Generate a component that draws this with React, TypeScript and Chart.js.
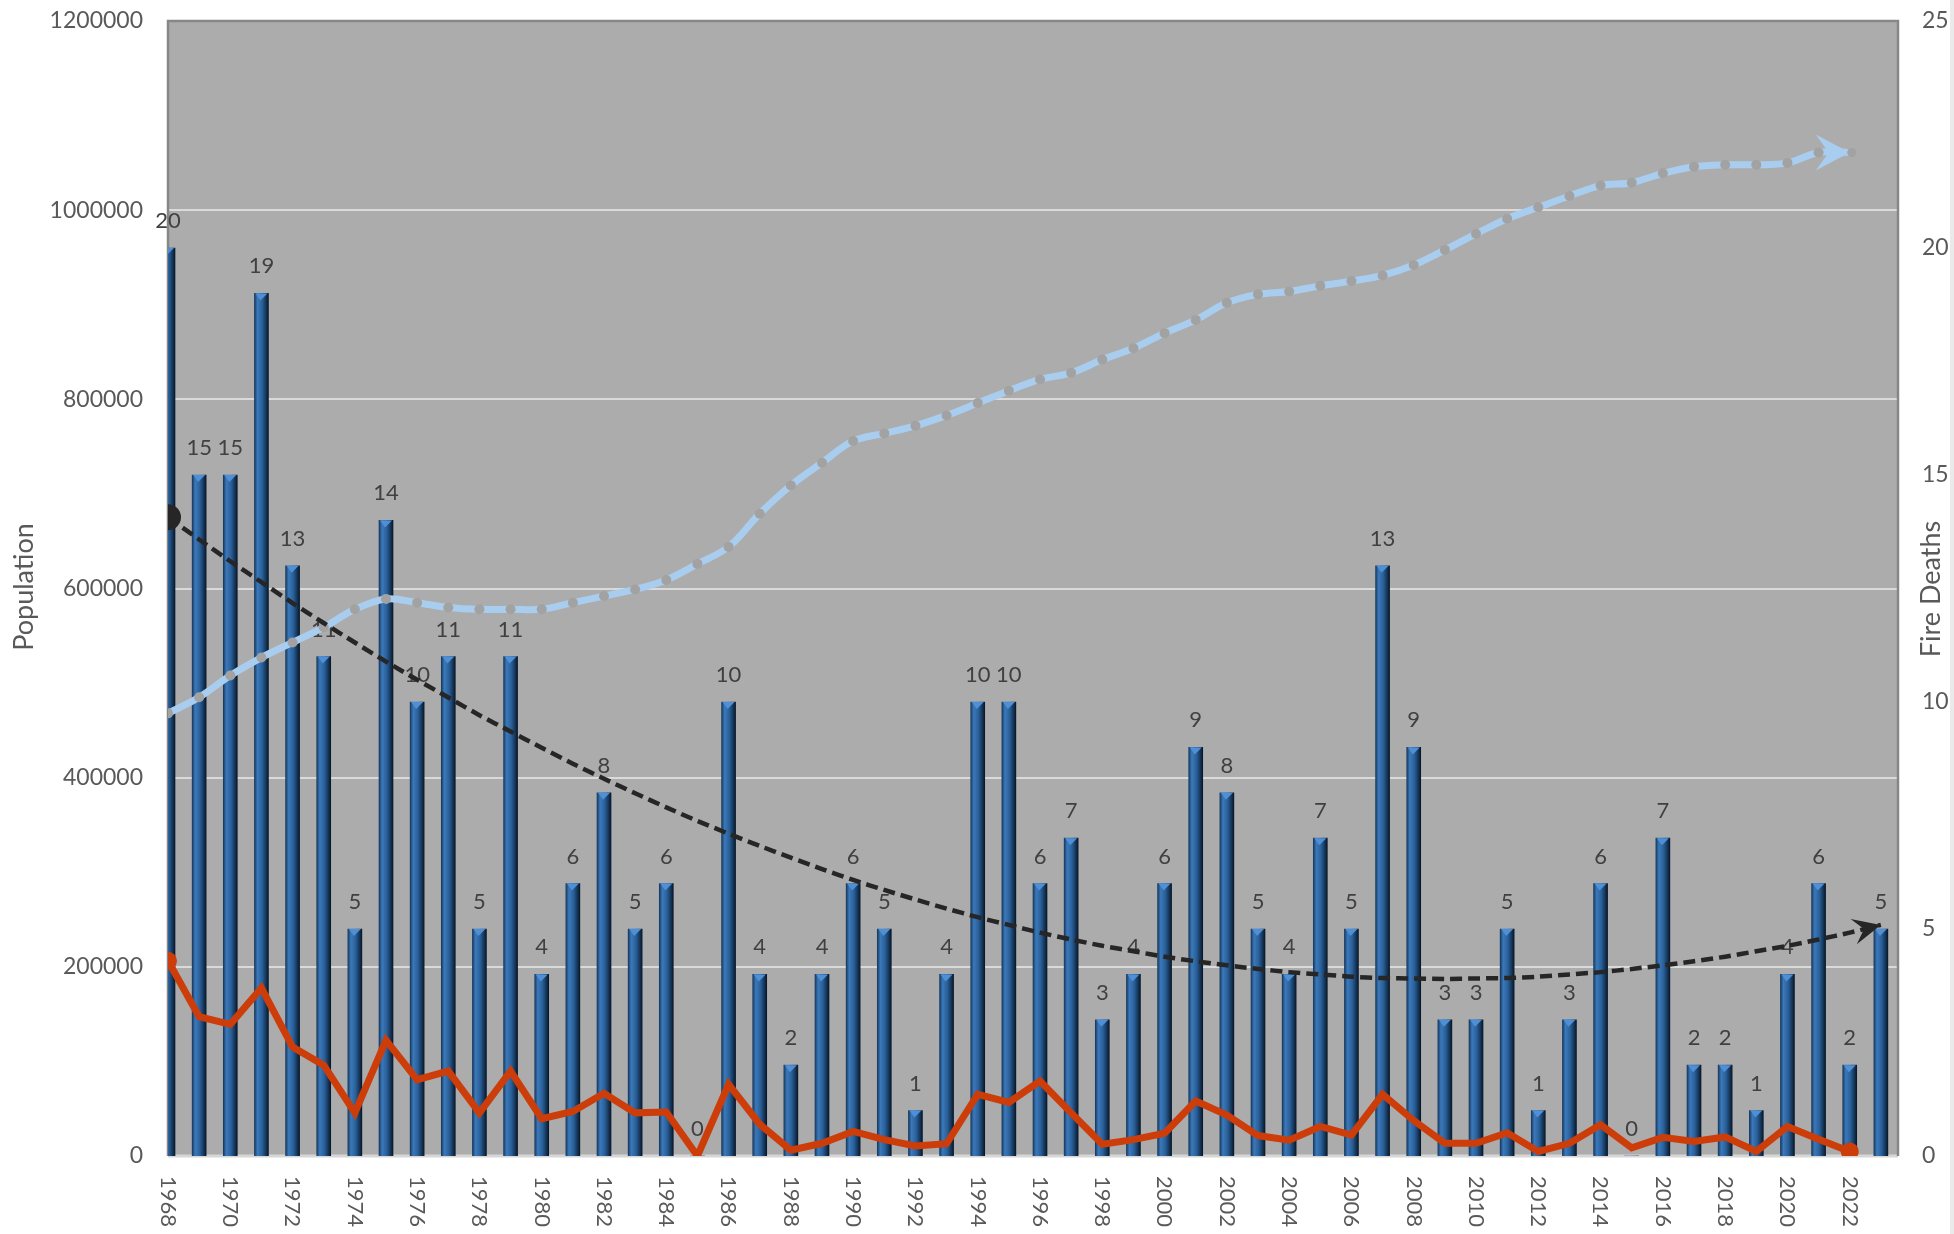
import React, { useEffect, useRef } from "react";
import { Chart, registerables } from "chart.js";

Chart.register(...registerables);

// ---------- data ----------
const years = [
  1968, 1969, 1970, 1971, 1972, 1973, 1974, 1975, 1976, 1977,
  1978, 1979, 1980, 1981, 1982, 1983, 1984, 1985, 1986, 1987,
  1988, 1989, 1990, 1991, 1992, 1993, 1994, 1995, 1996, 1997,
  1998, 1999, 2000, 2001, 2002, 2003, 2004, 2005, 2006, 2007,
  2008, 2009, 2010, 2011, 2012, 2013, 2014, 2015, 2016, 2017,
  2018, 2019, 2020, 2021, 2022, 2023,
];

const fireDeaths = [
  20, 15, 15, 19, 13, 11, 5, 14, 10, 11,
  5, 11, 4, 6, 8, 5, 6, 0, 10, 4,
  2, 4, 6, 5, 1, 4, 10, 10, 6, 7,
  3, 4, 6, 9, 8, 5, 4, 7, 5, 13,
  9, 3, 3, 5, 1, 3, 6, 0, 7, 2,
  2, 1, 4, 6, 2, 5,
];

// population 1968..2022
const population = [
  468000, 485000, 508000, 527000, 543000, 559000, 578000, 589000, 585000, 580000,
  578000, 578000, 578000, 585000, 592000, 599000, 609000, 626000, 644000, 679000,
  709000, 733000, 756000, 764000, 772000, 783000, 796000, 809000, 821000, 828000,
  842000, 854000, 870000, 884000, 902000, 911000, 914000, 920000, 925000, 931000,
  942000, 958000, 975000, 991000, 1003000, 1015000, 1026000, 1029000, 1039000, 1046000,
  1048000, 1048000, 1050000, 1061000, 1061000,
];

// fire deaths per 100,000 residents 1968..2022
const deathRate = [
  4.3, 3.07, 2.9, 3.7, 2.4, 2.0, 0.95, 2.55, 1.68, 1.87,
  0.95, 1.87, 0.82, 0.98, 1.38, 0.95, 0.97, 0.0, 1.58, 0.7,
  0.13, 0.28, 0.54, 0.36, 0.22, 0.27, 1.36, 1.18, 1.65, 0.95,
  0.26, 0.36, 0.5, 1.21, 0.9, 0.45, 0.35, 0.65, 0.46, 1.36,
  0.78, 0.28, 0.28, 0.51, 0.1, 0.28, 0.69, 0.18, 0.41, 0.32,
  0.42, 0.1, 0.65, 0.37, 0.1,
];

// polynomial trend of fire deaths 1968..2023
const deathTrend = [
  14.07, 13.58, 13.1, 12.64, 12.18, 11.74, 11.31, 10.89, 10.49, 10.1,
  9.71, 9.35, 8.99, 8.64, 8.31, 7.99, 7.68, 7.38, 7.1, 6.83,
  6.57, 6.32, 6.08, 5.86, 5.65, 5.45, 5.26, 5.09, 4.92, 4.77,
  4.63, 4.51, 4.39, 4.29, 4.2, 4.12, 4.05, 4.0, 3.95, 3.92,
  3.91, 3.9, 3.91, 3.92, 3.95, 4.0, 4.05, 4.12, 4.2, 4.29,
  4.39, 4.51, 4.63, 4.77, 4.92, 5.09,
];

const xTickLabels = [
  1968, 1970, 1972, 1974, 1976, 1978, 1980, 1982, 1984, 1986,
  1988, 1990, 1992, 1994, 1996, 1998, 2000, 2002, 2004, 2006,
  2008, 2010, 2012, 2014, 2016, 2018, 2020, 2022,
];

const leftTitle = "Population";
const rightTitle = "Fire Deaths";

// ---------- style ----------
const FONT = "Lato, 'Open Sans', sans-serif";
const TICK_COLOR = "#595959";
const LABEL_COLOR = "#404040";
const W = 1954;
const H = 1234;

const IDX_BARS = 3;
const IDX_POP = 2;
const IDX_TREND = 1;

function drawArrow(
  ctx: CanvasRenderingContext2D,
  tipX: number,
  tipY: number,
  fromX: number,
  fromY: number,
  len: number,
  half: number,
  color: string
) {
  const ang = Math.atan2(tipY - fromY, tipX - fromX);
  ctx.save();
  ctx.translate(tipX, tipY);
  ctx.rotate(ang);
  ctx.beginPath();
  ctx.moveTo(0, 0);
  ctx.lineTo(-len, -half);
  ctx.lineTo(-len * 0.62, 0);
  ctx.lineTo(-len, half);
  ctx.closePath();
  ctx.fillStyle = color;
  ctx.fill();
  ctx.restore();
}

const decorPlugin = {
  id: "decor",
  beforeDraw(chart: any) {
    const { ctx, chartArea: a } = chart;
    ctx.save();
    ctx.fillStyle = "#acacac";
    ctx.fillRect(a.left, a.top, a.right - a.left, a.bottom - a.top);
    ctx.restore();
  },
  beforeDatasetsDraw(chart: any) {
    const { ctx, chartArea: a } = chart;
    ctx.save();
    ctx.strokeStyle = "#d6d6d6";
    ctx.lineWidth = 3;
    ctx.beginPath();
    ctx.moveTo(a.left, a.bottom);
    ctx.lineTo(a.right, a.bottom);
    ctx.stroke();
    ctx.strokeStyle = "#878787";
    ctx.lineWidth = 2.5;
    ctx.beginPath();
    ctx.moveTo(a.left, a.bottom);
    ctx.lineTo(a.left, a.top);
    ctx.lineTo(a.right, a.top);
    ctx.lineTo(a.right, a.bottom);
    ctx.stroke();
    ctx.restore();
  },
  afterDatasetDraw(chart: any, args: any) {
    const ctx: CanvasRenderingContext2D = chart.ctx;
    const a = chart.chartArea;
    const meta = args.meta;
    if (args.index === IDX_BARS) {
      ctx.save();
      ctx.beginPath();
      ctx.rect(a.left, a.top, a.right - a.left, a.bottom - a.top);
      ctx.clip();
      meta.data.forEach((el: any) => {
        const { x, y, base, width } = el.getProps(["x", "y", "base", "width"], true);
        if (base - y > 8) {
          ctx.fillStyle = "#4f8fd6";
          ctx.beginPath();
          ctx.moveTo(x - width / 2 + 1, y);
          ctx.lineTo(x + width / 2 - 1, y);
          ctx.lineTo(x - 1, y + 7);
          ctx.closePath();
          ctx.fill();
        }
      });
      ctx.restore();
      ctx.save();
      ctx.font = `22px ${FONT}`;
      ctx.fillStyle = LABEL_COLOR;
      ctx.textAlign = "center";
      ctx.textBaseline = "middle";
      meta.data.forEach((el: any, i: number) => {
        const { x, y } = el.getProps(["x", "y"], true);
        ctx.fillText(String(fireDeaths[i]), x, y - 27);
      });
      ctx.restore();
    }
    if (args.index === IDX_POP) {
      const pts = meta.data;
      const n = pts.length;
      drawArrow(ctx, pts[n - 1].x, pts[n - 1].y, pts[n - 2].x, pts[n - 2].y, 34, 18, "#a9cdee");
      ctx.save();
      ctx.fillStyle = "#a2a2a2";
      ctx.beginPath();
      ctx.arc(pts[n - 1].x + 2, pts[n - 1].y, 4.5, 0, Math.PI * 2);
      ctx.fill();
      ctx.restore();
    }
    if (args.index === IDX_TREND) {
      const pts = meta.data;
      const n = pts.length;
      drawArrow(ctx, pts[n - 1].x, pts[n - 1].y, pts[n - 2].x, pts[n - 2].y, 28, 13, "#262626");
    }
  },
  afterDraw(chart: any) {
    const ctx: CanvasRenderingContext2D = chart.ctx;
    const a = chart.chartArea;
    const xs = chart.scales.x;
    ctx.save();
    ctx.font = `22px ${FONT}`;
    ctx.fillStyle = TICK_COLOR;
    ctx.textAlign = "left";
    ctx.textBaseline = "middle";
    xTickLabels.forEach((yr) => {
      const x = xs.getPixelForValue(yr);
      ctx.save();
      ctx.translate(x, a.bottom + 20);
      ctx.rotate(Math.PI / 2);
      ctx.fillText(String(yr), 0, 0);
      ctx.restore();
    });
    ctx.font = `27px ${FONT}`;
    ctx.textAlign = "center";
    ctx.textBaseline = "middle";
    ctx.save();
    ctx.translate(24, 587);
    ctx.rotate(-Math.PI / 2);
    ctx.fillText(leftTitle, 0, 0);
    ctx.restore();
    ctx.save();
    ctx.translate(1931, 589);
    ctx.rotate(-Math.PI / 2);
    ctx.fillText(rightTitle, 0, 0);
    ctx.restore();
    ctx.fillStyle = "#eaeaea";
    ctx.fillRect(1950, 0, 4, H);
    ctx.restore();
  },
};

export default function App() {
  const ref = useRef<HTMLCanvasElement | null>(null);

  useEffect(() => {
    if (!ref.current) return;
    const barGradient = (c: any) => {
      const chart = c.chart;
      const xs = chart.scales && chart.scales.x;
      if (!xs || c.type !== "data" || !c.raw || !isFinite(xs.getPixelForValue(c.raw.x))) return "#2a609a";
      const cx = xs.getPixelForValue(c.raw.x);
      const w = 14;
      const g = chart.ctx.createLinearGradient(cx - w / 2, 0, cx + w / 2, 0);
      g.addColorStop(0, "#173a60");
      g.addColorStop(0.22, "#3b79ba");
      g.addColorStop(0.55, "#2a609a");
      g.addColorStop(0.85, "#133252");
      g.addColorStop(1, "#08172a");
      return g;
    };

    const chart = new Chart(ref.current, {
      type: "bar",
      data: {
        datasets: [
          {
            type: "line",
            label: "Fire deaths per 100,000",
            data: years.slice(0, deathRate.length).map((y, i) => ({ x: y, y: deathRate[i] })),
            yAxisID: "y1",
            xAxisID: "x",
            borderColor: "#cc3d0a",
            backgroundColor: "#cc3d0a",
            borderWidth: 7,
            borderJoinStyle: "miter",
            tension: 0,
            pointRadius: deathRate.map((_, i) => (i === 0 ? 9 : i === deathRate.length - 1 ? 9 : 0)),
            pointBorderWidth: 0,
            pointBackgroundColor: "#cc3d0a",
            clip: 0,
          } as any,
          {
            type: "line",
            label: "Trend",
            data: years.map((y, i) => ({ x: y, y: deathTrend[i] })),
            yAxisID: "y1",
            xAxisID: "x",
            borderColor: "#262626",
            borderWidth: 4.5,
            borderDash: [12, 6],
            tension: 0.3,
            pointRadius: deathTrend.map((_, i) => (i === 0 ? 13 : 0)),
            pointBorderWidth: 0,
            pointBackgroundColor: "#262626",
            clip: 0,
          } as any,
          {
            type: "line",
            label: "Population",
            data: years.slice(0, population.length).map((y, i) => ({ x: y, y: population[i] })),
            yAxisID: "y",
            xAxisID: "x",
            borderColor: "#a9cdee",
            borderWidth: 7,
            tension: 0.35,
            pointRadius: population.map((_, i) => (i === population.length - 1 ? 0 : 5)),
            pointBorderWidth: 0,
            pointBackgroundColor: "#a2a2a2",
            clip: 0,
          } as any,
          {
            type: "bar",
            label: "Fire Deaths",
            data: years.map((y, i) => ({ x: y, y: fireDeaths[i] })),
            yAxisID: "y1",
            xAxisID: "x",
            barThickness: 14,
            backgroundColor: barGradient,
            borderWidth: 0,
            clip: 0,
          } as any,
        ],
      },
      options: {
        responsive: false,
        animation: false,
        devicePixelRatio: 1,
        layout: { padding: { top: 21, left: 0, right: 0, bottom: 0 } },
        plugins: {
          legend: { display: false },
          tooltip: { enabled: false },
          title: { display: false },
        },
        scales: {
          x: {
            type: "linear",
            position: "bottom",
            min: 1968,
            max: 2023.55,
            offset: false,
            grid: { display: false },
            border: { display: false },
            ticks: { display: false },
            afterFit: (s: any) => {
              s.height = 78;
              s.paddingLeft = 0;
              s.paddingRight = 0;
            },
          },
          y: {
            type: "linear",
            position: "left",
            min: 0,
            max: 1200000,
            grid: { color: "#dadada", lineWidth: 2, drawTicks: false },
            border: { display: false },
            ticks: {
              stepSize: 200000,
              padding: 25,
              color: TICK_COLOR,
              font: { family: FONT, size: 23 },
              callback: (v: any) => String(v),
            },
            afterFit: (s: any) => {
              s.width = 168;
              s.paddingTop = 0;
              s.paddingBottom = 0;
            },
          },
          y1: {
            type: "linear",
            position: "right",
            min: 0,
            max: 25,
            grid: { display: false, drawTicks: false },
            border: { display: false },
            ticks: {
              stepSize: 5,
              padding: 24,
              color: TICK_COLOR,
              font: { family: FONT, size: 23 },
              callback: (v: any) => String(v),
            },
            afterFit: (s: any) => {
              s.width = W - 1898;
              s.paddingTop = 0;
              s.paddingBottom = 0;
            },
          },
        },
      } as any,
      plugins: [decorPlugin],
    });
    return () => chart.destroy();
  }, []);

  return (
    <div style={{ position: "fixed", left: 0, top: 0, width: W, height: H, background: "#ffffff" }}>
      <canvas ref={ref} width={W} height={H} style={{ display: "block", width: W, height: H }} />
    </div>
  );
}
